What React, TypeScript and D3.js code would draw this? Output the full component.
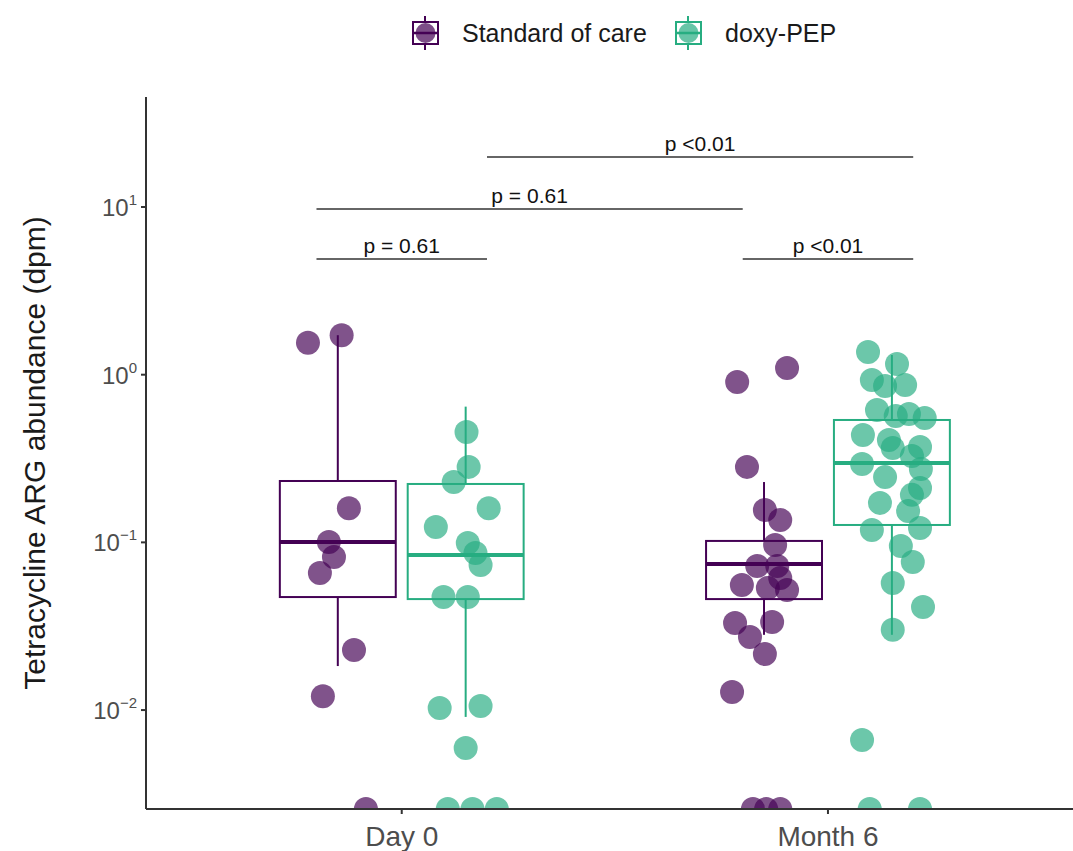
import * as d3 from "d3";

const width = 1073;
const height = 851;

const groups = ["Day 0", "Month 6"];
const arms = ["Standard of care", "doxy-PEP"];
const armColors = ["#440154", "#27ad81"];

// point values (dpm), 0 = nothing detected (drawn on the lower edge)
// jitter is the horizontal offset in axis units
const day0SocValues = [1.55, 1.72, 0.16, 0.1005, 0.0818, 0.0656, 0.0228, 0.0121, 0];
const day0SocJitter = [-0.07, 0.009, 0.026, -0.021, -0.009, -0.042, 0.038, -0.035, 0.066];

const day0DoxyValues = [0.455, 0.282, 0.229, 0.16, 0.1236, 0.0991, 0.0865, 0.0733, 0.0472, 0.0472, 0.01028, 0.01057, 0.00594, 0, 0, 0];
const day0DoxyJitter = [0.002, 0.007, -0.028, 0.054, -0.07, 0.005, 0.023, 0.035, -0.052, 0.005, -0.061, 0.035, 0, -0.042, 0.016, 0.073];

const month6SocValues = [0.905, 1.096, 0.282, 0.156, 0.136, 0.0966, 0.0723, 0.0723, 0.0613, 0.0557, 0.0535, 0.052, 0.0331, 0.0335, 0.0273, 0.0216, 0.0128, 0, 0, 0];
const month6SocJitter = [-0.063, 0.054, -0.04, 0.002, 0.038, 0.026, -0.016, 0.031, 0.038, -0.052, 0.009, 0.054, -0.068, 0.019, -0.033, 0.002, -0.075, -0.026, 0.005, 0.038];

const month6DoxyValues = [1.365, 1.158, 0.93, 0.856, 0.869, 0.616, 0.583, 0.567, 0.552, 0.437, 0.408, 0.366, 0.371, 0.327, 0.293, 0.245, 0.274, 0.211, 0.192, 0.172, 0.154, 0.1186, 0.1219, 0.0951, 0.0764, 0.0573, 0.0412, 0.0301, 0.00663, 0, 0];
const month6DoxyJitter = [-0.056, 0.012, -0.047, -0.016, 0.031, -0.035, 0.04, 0.009, 0.077, -0.068, -0.007, 0.002, 0.066, 0.047, -0.07, -0.016, 0.068, 0.066, 0.047, -0.028, 0.038, -0.047, 0.066, 0.021, 0.049, 0.002, 0.073, 0.002, -0.07, -0.052, 0.066];

// box stats: Day 0 SoC, Day 0 doxy, Month 6 SoC, Month 6 doxy
const boxGroup = [0, 0, 1, 1];
const boxArm = [0, 1, 0, 1];
const whiskerHigh = [1.72, 0.645, 0.229, 1.31];
const boxQ3 = [0.2323, 0.223, 0.102, 0.537];
const boxMedian = [0.1005, 0.0841, 0.0743, 0.297];
const boxQ1 = [0.0472, 0.0459, 0.0459, 0.127];
const whiskerLow = [0.0183, 0.0091, 0.0281, 0.0281];

// p-value brackets
const bracketLabels = ["p = 0.61", "p = 0.61", "p <0.01", "p <0.01"];
const bracketY = [4.9, 9.73, 19.9, 4.9];
const bracketFromGroup = [0, 0, 0, 1];
const bracketFromArm = [0, 0, 1, 0];
const bracketToGroup = [0, 1, 1, 1];
const bracketToArm = [1, 0, 1, 1];

const yTicks = [0.01, 0.1, 1, 10];
const yTickExp = ["\u22122", "\u22121", "0", "1"];

const dodge = 0.15;
const boxWidth = 0.272;
const bracketDodge = 0.2;
const font = "Liberation Sans, Arial, Helvetica, sans-serif";

const App = () => {
  const x = d3.scaleLinear().domain([0.4, 2.6]).range([146, 1083.7]);
  const y = d3.scaleLog().domain([0.00257, 45.3]).range([809, 97]);
  const [yBottom, yTop] = y.range();
  const yPos = (v) => (v > 0 ? y(v) : yBottom);
  const armShift = (a) => (a === 0 ? -dodge : dodge);

  const pointSets = [
    { group: 0, arm: 0, values: day0SocValues, jitter: day0SocJitter },
    { group: 0, arm: 1, values: day0DoxyValues, jitter: day0DoxyJitter },
    { group: 1, arm: 0, values: month6SocValues, jitter: month6SocJitter },
    { group: 1, arm: 1, values: month6DoxyValues, jitter: month6DoxyJitter },
  ];

  const bw = x(boxWidth) - x(0);

  return (
    <svg width={width} height={height} style={{ position: "absolute", left: 0, top: 0, background: "#fff" }}>
      <defs>
        <clipPath id="panel">
          <rect x={x(0.4)} y={yTop} width={x(2.6) - x(0.4)} height={yBottom - yTop} />
        </clipPath>
      </defs>

      {/* legend */}
      <g fontFamily={font} fontSize={25} fill="#1a1a1a">
        {arms.map((a, i) => {
          const lx = i === 0 ? 413 : 676;
          return (
            <g key={a}>
              <line x1={lx + 12} x2={lx + 12} y1={16} y2={50} stroke={armColors[i]} strokeWidth={2} />
              <rect x={lx} y={22} width={25} height={22} fill="#fff" stroke={armColors[i]} strokeWidth={2} />
              <circle cx={lx + 12.5} cy={33} r={10} fill={armColors[i]} fillOpacity={0.7} />
              <line x1={lx} x2={lx + 25} y1={33} y2={33} stroke={armColors[i]} strokeWidth={2.5} />
              <text x={lx + 49} y={42}>{a}</text>
            </g>
          );
        })}
      </g>

      {/* boxes */}
      <g>
        {boxGroup.map((g, i) => {
          const cx = x(g + 1 + armShift(boxArm[i]));
          const c = armColors[boxArm[i]];
          return (
            <g key={i} stroke={c} fill="none">
              <line x1={cx} x2={cx} y1={y(whiskerHigh[i])} y2={y(boxQ3[i])} strokeWidth={2} />
              <line x1={cx} x2={cx} y1={y(boxQ1[i])} y2={y(whiskerLow[i])} strokeWidth={2} />
              <rect x={cx - bw / 2} y={y(boxQ3[i])} width={bw} height={y(boxQ1[i]) - y(boxQ3[i])} strokeWidth={2} />
              <line x1={cx - bw / 2} x2={cx + bw / 2} y1={y(boxMedian[i])} y2={y(boxMedian[i])} strokeWidth={4} />
            </g>
          );
        })}
      </g>

      {/* jittered points */}
      <g clipPath="url(#panel)">
        {pointSets.map((s) =>
          s.values.map((v, j) => (
            <circle
              key={`${s.group}-${s.arm}-${j}`}
              cx={x(s.group + 1 + armShift(s.arm) + s.jitter[j])}
              cy={yPos(v)}
              r={12}
              fill={armColors[s.arm]}
              fillOpacity={0.68}
            />
          ))
        )}
      </g>

      {/* brackets */}
      <g fontFamily={font} fontSize={21} fill="#111" textAnchor="middle">
        {bracketLabels.map((lab, i) => {
          const x1 = x(bracketFromGroup[i] + 1 + (bracketFromArm[i] === 0 ? -bracketDodge : bracketDodge));
          const x2 = x(bracketToGroup[i] + 1 + (bracketToArm[i] === 0 ? -bracketDodge : bracketDodge));
          const by = y(bracketY[i]);
          return (
            <g key={i}>
              <line x1={x1} x2={x2} y1={by} y2={by} stroke="#333" strokeWidth={1.5} />
              <text x={(x1 + x2) / 2} y={by - 6}>{lab}</text>
            </g>
          );
        })}
      </g>

      {/* axes */}
      <g fontFamily={font} fill="#4d4d4d">
        <line x1={x(0.4)} x2={x(0.4)} y1={yTop} y2={yBottom} stroke="#333" strokeWidth={2} />
        <line x1={x(0.4)} x2={width} y1={yBottom} y2={yBottom} stroke="#333" strokeWidth={2} />
        {yTicks.map((t, i) => (
          <g key={t}>
            <line x1={x(0.4) - 5} x2={x(0.4)} y1={y(t)} y2={y(t)} stroke="#333" strokeWidth={2} />
            <text x={x(0.4) - 9} y={y(t) + 9} textAnchor="end" fontSize={24}>
              10<tspan dy={-11} fontSize={15}>{yTickExp[i]}</tspan>
            </text>
          </g>
        ))}
        {groups.map((g, i) => (
          <g key={g}>
            <line x1={x(i + 1)} x2={x(i + 1)} y1={yBottom} y2={yBottom + 5} stroke="#333" strokeWidth={2} />
            <text x={x(i + 1)} y={yBottom + 37} textAnchor="middle" fontSize={28}>{g}</text>
          </g>
        ))}
        <text
          transform={`translate(45,${(yTop + yBottom) / 2}) rotate(-90)`}
          textAnchor="middle"
          fontSize={30}
          fill="#1a1a1a"
        >
          Tetracycline ARG abundance (dpm)
        </text>
      </g>
    </svg>
  );
};

export default App;
